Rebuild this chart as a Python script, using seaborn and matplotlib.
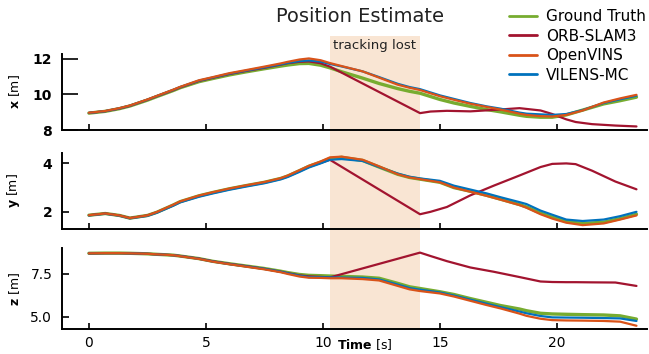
import numpy as np
import pandas as pd
import matplotlib
matplotlib.use("Agg")
import matplotlib.pyplot as plt
import seaborn as sns
from matplotlib.patches import Rectangle
from matplotlib.transforms import blended_transform_factory
from matplotlib.lines import Line2D

# ---------------- data ----------------
T = [0, 0.7, 1.3, 1.75, 2.5, 2.9, 3.6, 3.9, 4.7, 5.3, 6.0, 6.7, 7.5, 8.2, 8.5, 9.0, 9.4, 9.9, 10.3,
     10.8, 11.7, 12.4, 13.2, 13.7, 14.15, 15.0, 15.6, 16.3, 17.0, 17.6, 18.4, 18.7, 19.3, 19.8, 20.4,
     21.1, 22.0, 22.7, 23.4]

GT_X = [8.95, 9.05, 9.2, 9.35, 9.68, 9.88, 10.22, 10.38, 10.72, 10.9, 11.1, 11.27, 11.45, 11.6, 11.66,
        11.74, 11.75, 11.65, 11.5, 11.28, 10.92, 10.62, 10.33, 10.18, 10.07, 9.72, 9.52, 9.33, 9.15,
        9.02, 8.83, 8.77, 8.72, 8.72, 8.85, 9.12, 9.47, 9.65, 9.85]
OV_X = [8.97, 9.07, 9.23, 9.38, 9.72, 9.92, 10.27, 10.43, 10.8, 10.98, 11.2, 11.37, 11.57, 11.75, 11.84,
        11.97, 12.03, 11.93, 11.77, 11.6, 11.3, 10.95, 10.55, 10.38, 10.25, 9.9, 9.7, 9.48, 9.3,
        9.15, 8.92, 8.85, 8.78, 8.76, 8.85, 9.1, 9.55, 9.78, 9.98]
VM_X = [8.96, 9.06, 9.22, 9.37, 9.71, 9.91, 10.26, 10.42, 10.78, 10.96, 11.17, 11.34, 11.53, 11.7, 11.78,
        11.88, 11.92, 11.85, 11.72, 11.58, 11.3, 10.98, 10.6, 10.42, 10.3, 9.95, 9.75, 9.52, 9.33,
        9.2, 8.98, 8.92, 8.88, 8.85, 8.9, 9.12, 9.52, 9.73, 9.93]

GT_Y = [1.86, 1.93, 1.85, 1.74, 1.85, 1.98, 2.28, 2.42, 2.66, 2.8, 2.95, 3.08, 3.22, 3.38, 3.48, 3.7,
        3.88, 4.05, 4.2, 4.25, 4.12, 3.85, 3.55, 3.42, 3.35, 3.22, 3.0, 2.85, 2.68, 2.52, 2.3, 2.2,
        1.95, 1.78, 1.6, 1.52, 1.57, 1.72, 1.9]
OV_Y = [1.86, 1.93, 1.85, 1.74, 1.85, 1.99, 2.29, 2.43, 2.67, 2.81, 2.96, 3.09, 3.23, 3.39, 3.5, 3.72,
        3.9, 4.08, 4.25, 4.28, 4.15, 3.88, 3.55, 3.42, 3.35, 3.22, 3.0, 2.83, 2.66, 2.5, 2.28, 2.17,
        1.9, 1.72, 1.55, 1.45, 1.52, 1.68, 1.85]
VM_Y = [1.85, 1.92, 1.84, 1.73, 1.83, 1.96, 2.25, 2.39, 2.62, 2.76, 2.91, 3.04, 3.18, 3.34, 3.44, 3.65,
        3.83, 4.0, 4.15, 4.18, 4.1, 3.85, 3.58, 3.45, 3.38, 3.28, 3.08, 2.92, 2.76, 2.6, 2.4, 2.32,
        2.05, 1.88, 1.68, 1.62, 1.68, 1.82, 2.0]

GT_Z = [8.71, 8.72, 8.72, 8.71, 8.68, 8.65, 8.6, 8.55, 8.4, 8.24, 8.1, 7.97, 7.82, 7.66, 7.58, 7.47,
        7.42, 7.4, 7.38, 7.36, 7.32, 7.25, 6.95, 6.75, 6.65, 6.46, 6.3, 6.06, 5.84, 5.65, 5.45, 5.35,
        5.2, 5.16, 5.14, 5.12, 5.1, 5.05, 4.86]
OV_Z = [8.71, 8.72, 8.72, 8.71, 8.68, 8.65, 8.6, 8.54, 8.38, 8.22, 8.07, 7.93, 7.77, 7.6, 7.5, 7.35,
        7.28, 7.27, 7.25, 7.25, 7.2, 7.12, 6.8, 6.6, 6.5, 6.36, 6.18, 5.93, 5.68, 5.48, 5.18, 5.05,
        4.88, 4.8, 4.78, 4.77, 4.75, 4.71, 4.47]
VM_Z = [8.71, 8.72, 8.72, 8.71, 8.68, 8.65, 8.6, 8.55, 8.39, 8.23, 8.08, 7.95, 7.8, 7.63, 7.54, 7.4,
        7.32, 7.31, 7.3, 7.29, 7.27, 7.18, 6.88, 6.68, 6.58, 6.42, 6.24, 6.0, 5.76, 5.56, 5.3, 5.2,
        5.04, 4.96, 4.95, 4.94, 4.92, 4.9, 4.75]

T_ORB = [0, 0.7, 1.3, 1.75, 2.5, 2.9, 3.6, 3.9, 4.7, 5.3, 6.0, 6.7, 7.5, 8.2, 8.5, 9.0, 9.4, 9.9, 10.3,
         14.15, 14.6, 15.3, 16.3, 17.3, 18.4, 19.3, 19.8, 20.4, 20.8, 21.5, 22.5, 23.4]
ORB_X = [8.96, 9.06, 9.21, 9.36, 9.7, 9.9, 10.24, 10.4, 10.76, 10.94, 11.15, 11.32, 11.5, 11.68, 11.76,
         11.84, 11.86, 11.76, 11.57, 8.95, 9.04, 9.08, 9.05, 9.13, 9.23, 9.1, 8.9, 8.6, 8.45, 8.33,
         8.25, 8.2]
ORB_Y = [1.86, 1.93, 1.85, 1.74, 1.85, 1.98, 2.27, 2.41, 2.65, 2.79, 2.94, 3.07, 3.21, 3.37, 3.47,
         3.68, 3.86, 4.02, 4.15, 1.9, 2.0, 2.2, 2.68, 3.08, 3.5, 3.85, 3.98, 4.0, 3.97, 3.7, 3.25, 2.93]
ORB_Z = [8.71, 8.72, 8.72, 8.71, 8.68, 8.65, 8.6, 8.55, 8.4, 8.24, 8.09, 7.96, 7.8, 7.63, 7.55, 7.42,
         7.36, 7.33, 7.3, 8.75, 8.55, 8.25, 7.88, 7.63, 7.32, 7.06, 7.03, 7.02, 7.02, 7.01, 7.0, 6.8]

METHODS = ["Ground Truth", "ORB-SLAM3", "OpenVINS", "VILENS-MC"]
COMPONENTS = ["x", "y", "z"]
LOST_START, LOST_END = 10.3, 14.15
X_TICKS = [0, 5, 10, 15, 20]
Y_TICKS = {"x": [8, 10, 12], "y": [2, 4], "z": [5.0, 7.5]}

COLORS = {"Ground Truth": "#77ac30", "ORB-SLAM3": "#a2142f",
          "OpenVINS": "#d95319", "VILENS-MC": "#0072bd"}
WIDTHS = {"Ground Truth": 2.4, "ORB-SLAM3": 1.6, "OpenVINS": 1.6, "VILENS-MC": 1.6}
DRAW_ORDER = ["Ground Truth", "ORB-SLAM3", "VILENS-MC", "OpenVINS"]

series = {
    "Ground Truth": (T, {"x": GT_X, "y": GT_Y, "z": GT_Z}),
    "ORB-SLAM3": (T_ORB, {"x": ORB_X, "y": ORB_Y, "z": ORB_Z}),
    "OpenVINS": (T, {"x": OV_X, "y": OV_Y, "z": OV_Z}),
    "VILENS-MC": (T, {"x": VM_X, "y": VM_Y, "z": VM_Z}),
}
rows = []
for m, (tt, comp) in series.items():
    for c in COMPONENTS:
        for t, v in zip(tt, comp[c]):
            rows.append((m, c, t, v))
df = pd.DataFrame(rows, columns=["method", "component", "time", "value"])

# ---------------- style ----------------
sns.set_style("ticks", {"axes.edgecolor": "black", "xtick.color": "black",
                        "ytick.color": "black", "text.color": "black",
                        "axes.labelcolor": "black"})
plt.rcParams['font.family'] = ['DejaVu Sans']
plt.rcParams['axes.linewidth'] = 1.4

fig = plt.figure(figsize=(6.49, 3.54), dpi=100)
W_PX, H_PX = 649, 354
left, right = 62, 647
boxes = {"x": (54, 130), "y": (153, 229), "z": (248, 329)}
ylims = {"x": (8, 12.28), "y": (1.29, 4.43), "z": (4.28, 9.02)}

axes = {}
for c in COMPONENTS:
    top, bot = boxes[c]
    ax = fig.add_axes([left / W_PX, 1 - bot / H_PX, (right - left) / W_PX, (bot - top) / H_PX])
    ax.set_facecolor("none")
    axes[c] = ax
    for m in DRAW_ORDER:
        sub = df[(df.method == m) & (df.component == c)]
        sns.lineplot(data=sub, x="time", y="value", ax=ax, color=COLORS[m],
                     linewidth=WIDTHS[m], estimator=None, sort=True, legend=False)
    ax.set_xlim(-1.15, 23.85)
    ax.set_ylim(*ylims[c])
    ax.set_xticks(X_TICKS)
    ax.set_yticks(Y_TICKS[c])
    sns.despine(ax=ax)
    ax.tick_params(axis="x", direction="in", length=4.5, width=1.2, pad=5, labelsize=10,
                   color="black", labelcolor="black")
    ylen = 11.5 if c == "x" else 5
    ax.tick_params(axis="y", direction="in", length=ylen, width=1.2, pad=7, labelsize=10,
                   color="black", labelcolor="black")
    ax.set_ylabel(r"$\mathbf{%s}$ [m]" % c, fontsize=9, color="black")
    ax.yaxis.set_label_coords(-0.068, 0.5)
    ax.set_xlabel("")
    if c != "z":
        ax.tick_params(axis="x", labelbottom=False)
        for lab in ax.get_yticklabels():
            lab.set_fontweight("bold")
    else:
        ax.set_yticklabels(["%.1f" % v for v in Y_TICKS[c]])

axes["z"].set_xlabel(r"$\mathbf{Time}$ [s]", fontsize=9, color="black")
axes["z"].xaxis.set_label_coords((365 - left) / (right - left), -0.1)

# shaded "tracking lost" region spanning all panels
tr = blended_transform_factory(axes["z"].transData, fig.transFigure)
y0 = 1 - 329 / H_PX
y1 = 1 - 36 / H_PX
fig.add_artist(Rectangle((LOST_START, y0), LOST_END - LOST_START, y1 - y0, transform=tr,
                         facecolor="#f9e5d3", edgecolor="none", zorder=-1))
fig.text(LOST_START + 0.12, 1 - 46 / H_PX, "tracking lost", transform=tr,
         ha="left", va="center", fontsize=9.5, color="#222222")

fig.text(360 / W_PX, 1 - 17 / H_PX, "Position Estimate", ha="center", va="center",
         fontsize=14, color="#222222")

handles = [Line2D([], [], color=COLORS[m], linewidth=2.0) for m in METHODS]
fig.legend(handles, METHODS, loc="upper right", bbox_to_anchor=(646 / W_PX, 1 - 9 / H_PX),
           frameon=False, fontsize=11, handlelength=1.8, handletextpad=0.6,
           labelspacing=0.3, borderpad=0, borderaxespad=0)

fig.savefig("out.png", dpi=100)
